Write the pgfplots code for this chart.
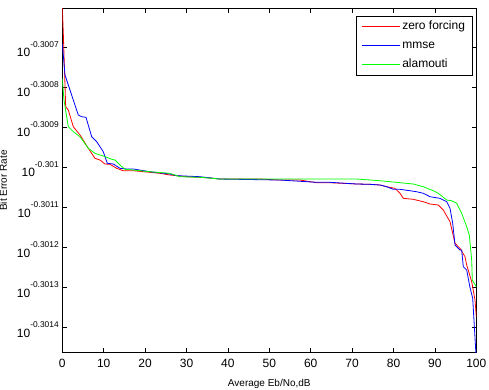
\documentclass[border=0pt]{standalone}
\usepackage{fontspec}
\setmainfont{Liberation Sans}
\usepackage{pgfplots}
\pgfplotsset{compat=1.18}
\usepackage{pgfplotstable}

% tick label of the form 10^{exponent}, exponent set small and raised
\newcommand{\tl}[1]{10\raisebox{9.5pt}{\fontsize{8.4}{9}\selectfont #1}}

% Bit error rate, stored as log10(BER)
\pgfplotstableread{
x      y
0      -0.3006000
0.24   -0.3006651
0.82   -0.3008489
1.45   -0.3008571
2.66   -0.3008988
4.28   -0.3009195
6.28   -0.3009526
7.90   -0.3009776
9.11   -0.3009818
10.31  -0.3009918
11.52  -0.3009925
13.14  -0.3010025
14.73  -0.3010085
17.15  -0.3010085
21.18  -0.3010125
23.60  -0.3010150
26.01  -0.3010192
30.05  -0.3010234
34.88  -0.3010259
38.09  -0.3010292
47.75  -0.3010292
52.58  -0.3010317
57.41  -0.3010317
61.45  -0.3010384
64.66  -0.3010384
71.11  -0.3010416
74.33  -0.3010424
76.74  -0.3010441
78.36  -0.3010484
80.36  -0.3010524
80.77  -0.3010566
81.57  -0.3010648
82.37  -0.3010773
84.78  -0.3010798
87.20  -0.3010858
88.82  -0.3010915
90.82  -0.3010940
92.03  -0.3011065
93.65  -0.3011357
94.86  -0.3011895
96.06  -0.3012020
97.27  -0.3012229
97.68  -0.3012436
98.89  -0.3012853
99.69  -0.3013309
100    -0.3013726
}\zeroforcing

\pgfplotstableread{
x      y
0      -0.3006908
0.65   -0.3007698
1.86   -0.3008072
3.86   -0.3008696
4.69   -0.3008738
5.72   -0.3008753
7.10   -0.3009237
8.31   -0.3009362
9.90   -0.3009611
10.87  -0.3009900
12.32  -0.3009918
13.94  -0.3010025
15.56  -0.3010042
17.15  -0.3010042
21.18  -0.3010110
26.01  -0.3010167
27.63  -0.3010209
33.26  -0.3010234
38.09  -0.3010292
52.58  -0.3010317
61.45  -0.3010374
64.66  -0.3010374
71.11  -0.3010416
74.33  -0.3010424
76.74  -0.3010441
78.36  -0.3010484
79.95  -0.3010549
81.57  -0.3010549
83.99  -0.3010584
85.60  -0.3010609
87.20  -0.3010648
88.82  -0.3010733
91.23  -0.3010773
92.85  -0.3010858
93.65  -0.3011023
94.30  -0.3011397
94.86  -0.3011938
96.06  -0.3012062
96.47  -0.3012062
96.86  -0.3012479
97.68  -0.3012561
98.48  -0.3013000
99.13  -0.3013267
100    -0.3014806
}\mmse

\pgfplotstableread{
x      y
0      -0.3007781
0.41   -0.3008322
1.45   -0.3008988
2.66   -0.3009112
4.28   -0.3009237
6.28   -0.3009526
7.90   -0.3009651
9.90   -0.3009718
11.93  -0.3009800
12.73  -0.3009818
13.94  -0.3009943
15.14  -0.3010050
17.15  -0.3010067
21.18  -0.3010110
26.01  -0.3010150
28.43  -0.3010234
33.26  -0.3010249
38.09  -0.3010292
71.11  -0.3010292
76.74  -0.3010334
81.57  -0.3010384
84.78  -0.3010416
87.20  -0.3010484
89.61  -0.3010584
90.82  -0.3010648
92.03  -0.3010748
92.85  -0.3010816
94.06  -0.3010833
95.27  -0.3010898
96.47  -0.3011148
97.68  -0.3011481
98.31  -0.3011688
98.89  -0.3012312
99.03  -0.3012811
100    -0.3012978
}\alamouti

\begin{document}
\begin{tikzpicture}
\begin{axis}[
  scale only axis,
  width=414pt, height=344.4pt,
  xmin=0, xmax=100,
  ymin=-0.3014622, ymax=-0.3006035,
  xtick={0,10,20,30,40,50,60,70,80,90,100},
  ytick={-0.3014,-0.3013,-0.3012,-0.3011,-0.3010,-0.3009,-0.3008,-0.3007},
  yticklabels={\tl{-0.3014},\tl{-0.3013},\tl{-0.3012},\tl{-0.3011},\tl{-0.301},\tl{-0.3009},\tl{-0.3008},\tl{-0.3007}},
  /pgf/number format/assume math mode=true,
  tick label style={font=\fontsize{12}{14}\selectfont},
  xticklabel style={yshift=-3.3pt},
  yticklabel style={yshift=-2pt},
  tick align=inside,
  major tick length=4.5pt,
  every tick/.style={black, line width=0.6pt},
  axis line style={black, line width=0.8pt},
  xlabel={Average Eb/No,dB},
  ylabel={Bit Error Rate},
  label style={font=\fontsize{12}{14}\selectfont},
  every axis x label/.style={at={(axis description cs:0.5,0)}, anchor=base, yshift=-33.8pt},
  every axis y label/.style={at={(axis description cs:-0.1336,0.5)}, rotate=90, anchor=base},
  legend style={at={(1,1)}, anchor=north east, xshift=-4pt, yshift=-7.7pt,
    draw=black, line width=0.6pt, font=\fontsize{12}{14}\selectfont,
    inner xsep=5pt, inner ysep=1pt, row sep=0pt,
    nodes={text height=8.6pt, text depth=2.6pt, inner ysep=3.9pt}},
  legend cell align=left,
  legend image code/.code={\draw[#1, line width=1.1pt] (0pt,0.5pt) -- (38pt,0.5pt);},
]
\addplot[red, line width=0.8pt] table[x=x, y=y] {\zeroforcing};
\addlegendentry{zero forcing}
\addplot[blue, line width=0.8pt] table[x=x, y=y] {\mmse};
\addlegendentry{mmse}
\addplot[green, line width=0.8pt] table[x=x, y=y] {\alamouti};
\addlegendentry{alamouti}
\end{axis}
\pgfresetboundingbox
\useasboundingbox (-62.3pt,-37.3pt) rectangle (426.7pt,352.7pt);
\end{tikzpicture}
\end{document}
